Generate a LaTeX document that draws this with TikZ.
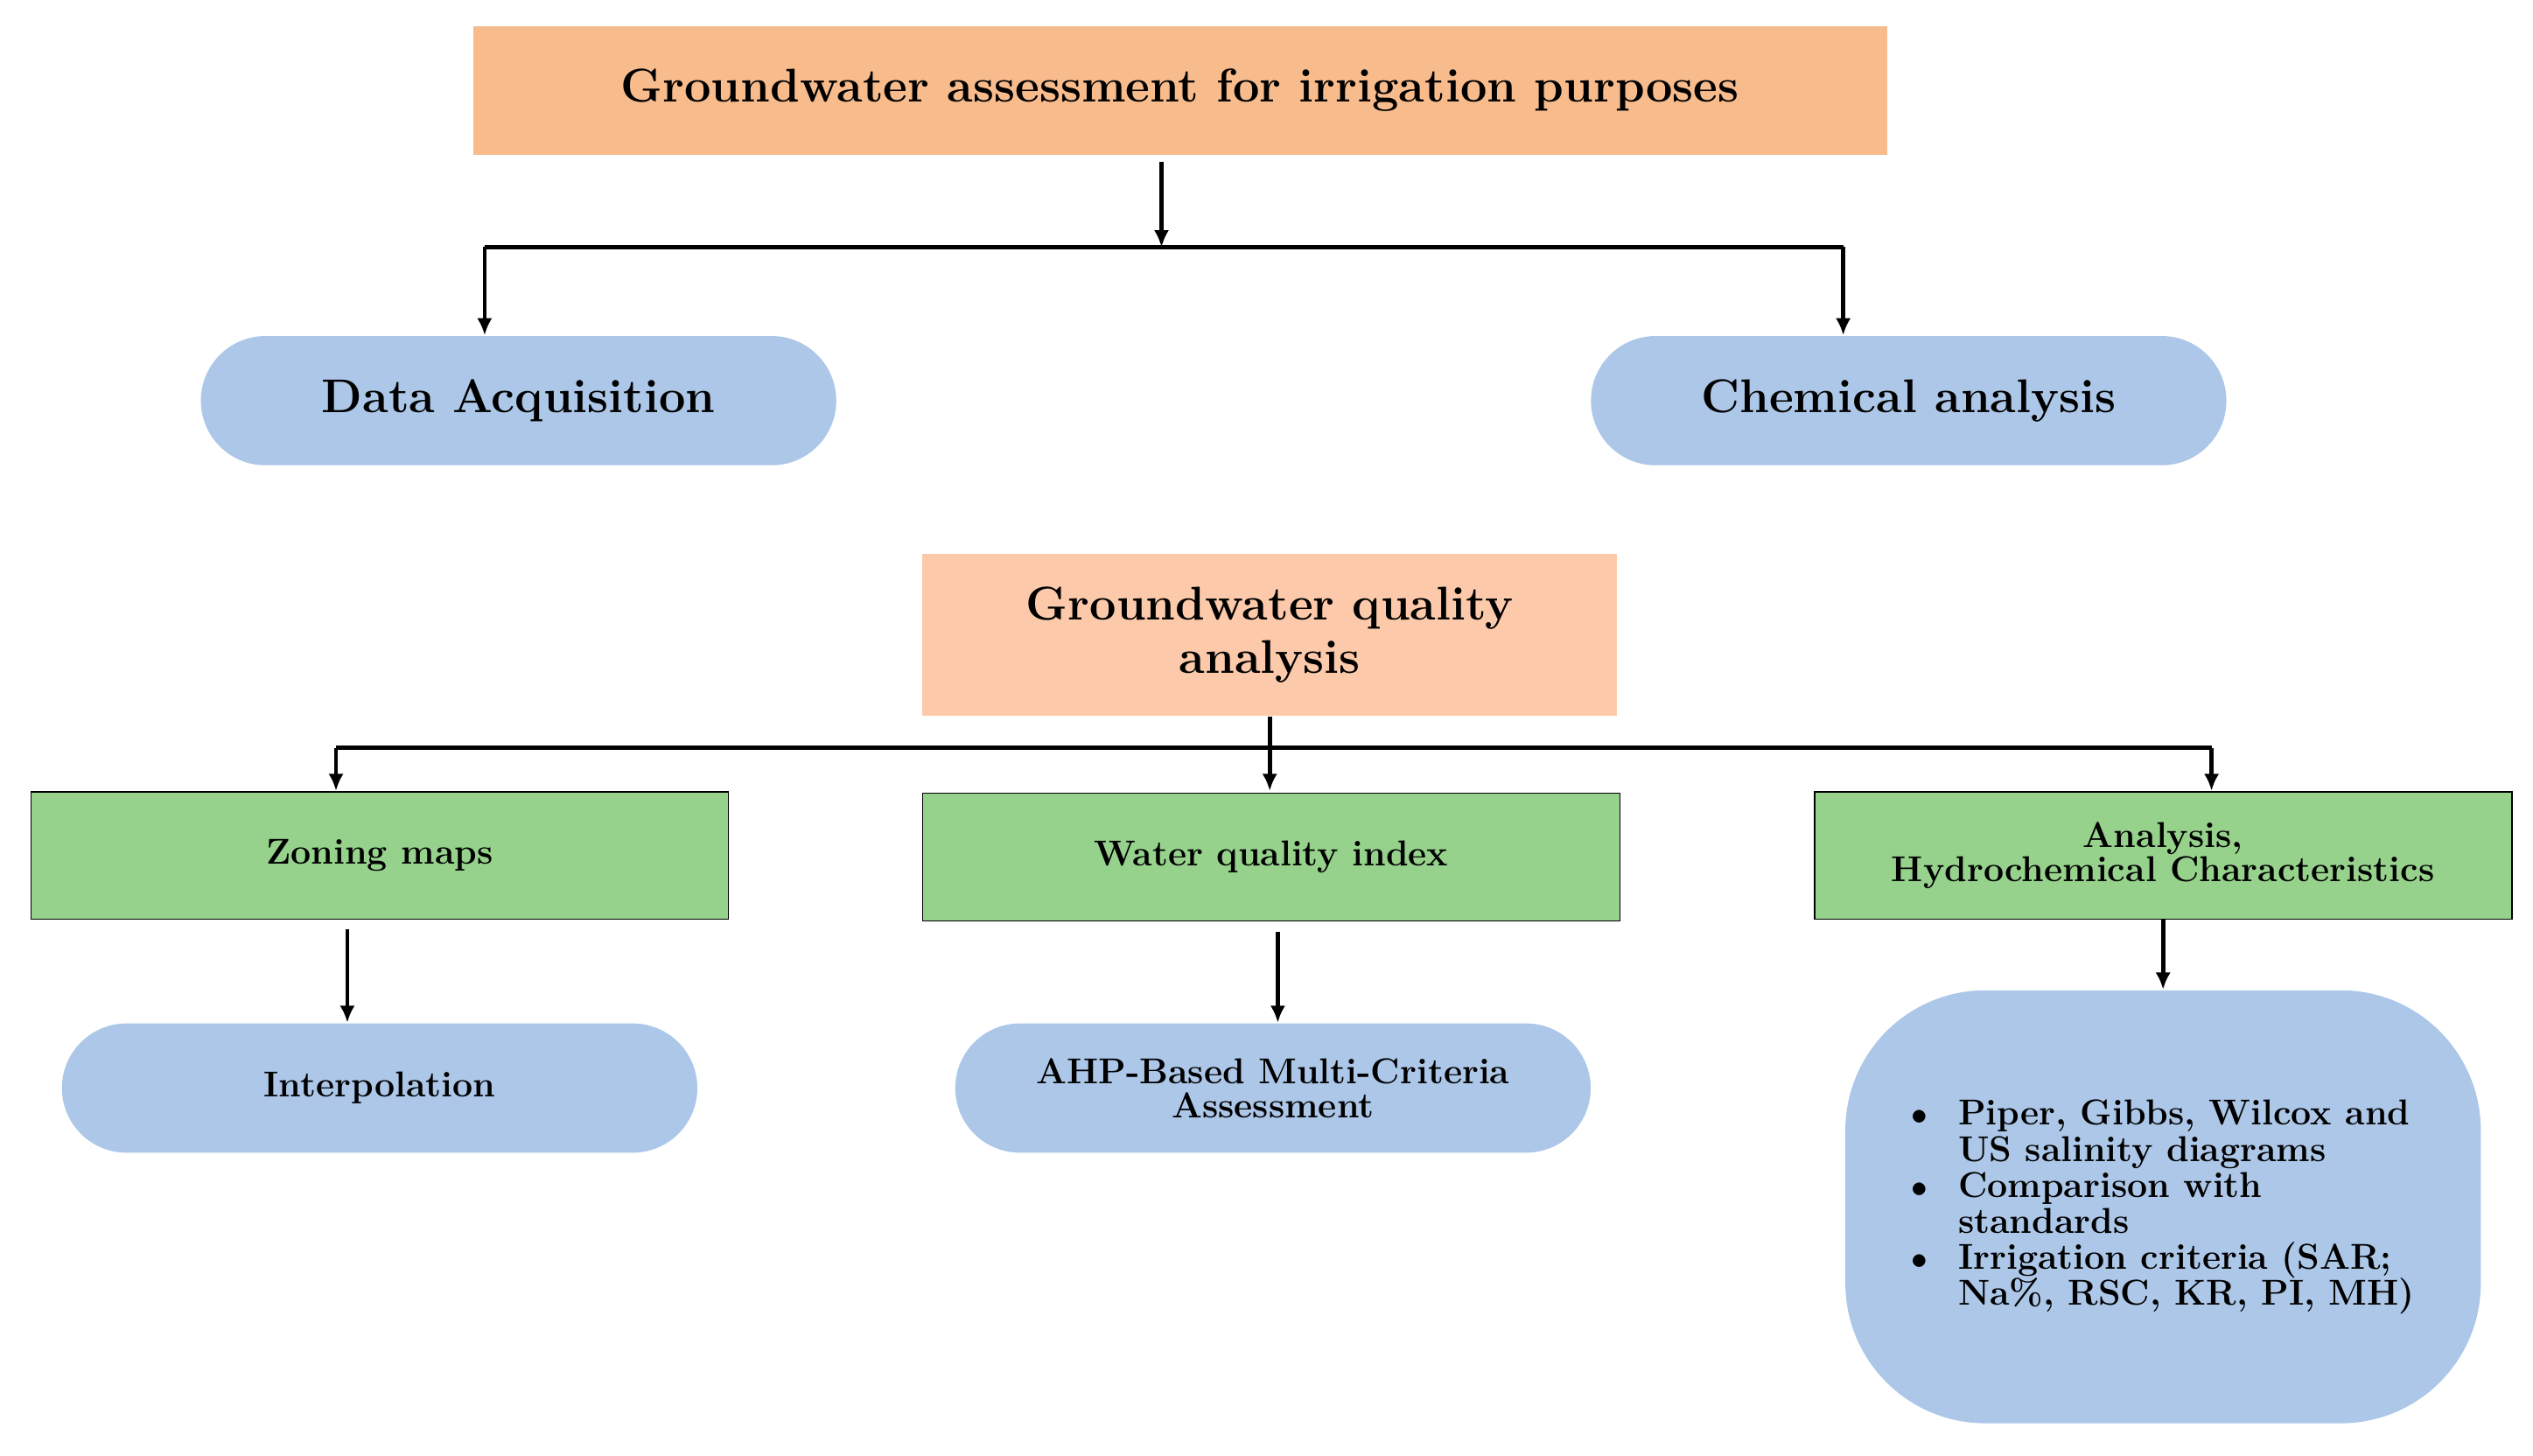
\documentclass[tikz,border=0pt]{standalone}
\usetikzlibrary{positioning,arrows.meta}
\definecolor{headorange}{RGB}{248,187,140}
\definecolor{peach}{RGB}{252,202,170}
\definecolor{pillblue}{RGB}{173,199,232}
\definecolor{boxgreen}{RGB}{150,210,140}
\begin{document}
\begin{tikzpicture}[x=0.03cm, y=-0.03cm, thick, font=\bfseries,
  head/.style = {fill=headorange, minimum width=26.25cm, minimum height=2.4cm},
  quality/.style = {fill=peach, minimum width=12.9cm, minimum height=3cm, align=center},
  pill/.style = {fill=pillblue, rounded corners=1.2cm, minimum width=11.8cm, minimum height=2.4cm, align=center},
  green/.style = {draw, fill=boxgreen, minimum width=12.95cm, minimum height=2.37cm, align=center},
  arr/.style = {line width=2.2pt, -{Latex[length=9pt,width=8pt]}},
  big/.style = {font=\fontsize{25}{30}\selectfont\bfseries},
  mid/.style = {font=\fontsize{22}{27}\selectfont\bfseries},
  small/.style = {font=\fontsize{19}{22}\selectfont\bfseries}]
  \useasboundingbox (0,0) rectangle (1568,901);
  \node[head, big] (top) at (730.5,56) {Groundwater assessment for irrigation purposes};
  \node[pill, big] (data) at (321,248) {Data Acquisition};
  \node[pill, big] (chem) at (1181.5,248) {Chemical analysis};
  \node[quality, big] (gq) at (786,393) {Groundwater quality\\[-2pt]analysis};
  \node[green, small] (zone) at (235,529.5) {Zoning maps};
  \node[green, small] (wqi) at (787,530.5) {Water quality index};
  \node[green, small] (hydro) at (1339,529.5) {Analysis,\\[-4pt]Hydrochemical Characteristics};
  \node[pill, small] (interp) at (235,673.5) {Interpolation};
  \node[pill, small] (ahp) at (788,673.5) {AHP-Based Multi-Criteria\\[-4pt]Assessment};
  \node[pill, small, rounded corners=2.6cm, minimum height=8.04cm, align=left] (diag) at (1339,747)
    {\begin{tabular}{@{}l@{\hspace{16pt}}l@{}}
     $\bullet$ & Piper, Gibbs, Wilcox and\\[-3pt]
               & US salinity diagrams\\[-3pt]
     $\bullet$ & Comparison with\\[-3pt]
               & standards\\[-3pt]
     $\bullet$ & Irrigation criteria (SAR;\\[-3pt]
               & Na\%, RSC, KR, PI, MH)
     \end{tabular}};
  \coordinate (j1) at (719,153);
  \coordinate (l1) at (300,153);
  \coordinate (r1) at (1141,153);
  \coordinate (l2) at (208,463);
  \coordinate (r2) at (1369,463);
  \coordinate (s1) at (719,100);
  \coordinate (zs) at (215,575);
  \coordinate (ws) at (791,577);
  \coordinate (we) at (791,486);
  \draw[arr] (s1) -- (j1);
  \draw[line width=2.2pt] (l1) -- (r1);
  \draw[arr] (l1) -- (data.north -| l1);
  \draw[arr] (r1) -- (chem.north -| r1);
  \draw[arr] (gq.south) -- (gq.south |- zone.north);
  \draw[line width=2.2pt] (l2) -- (r2);
  \draw[arr] (l2) -- (zone.north -| l2);
  \draw[arr] (r2) -- (hydro.north -| r2);
  \draw[arr] (zs) -- (interp.north -| zs);
  \draw[arr] (ws) -- (ahp.north -| ws);
  \draw[arr] (hydro.south) -- (diag.north);
\end{tikzpicture}
\end{document}
